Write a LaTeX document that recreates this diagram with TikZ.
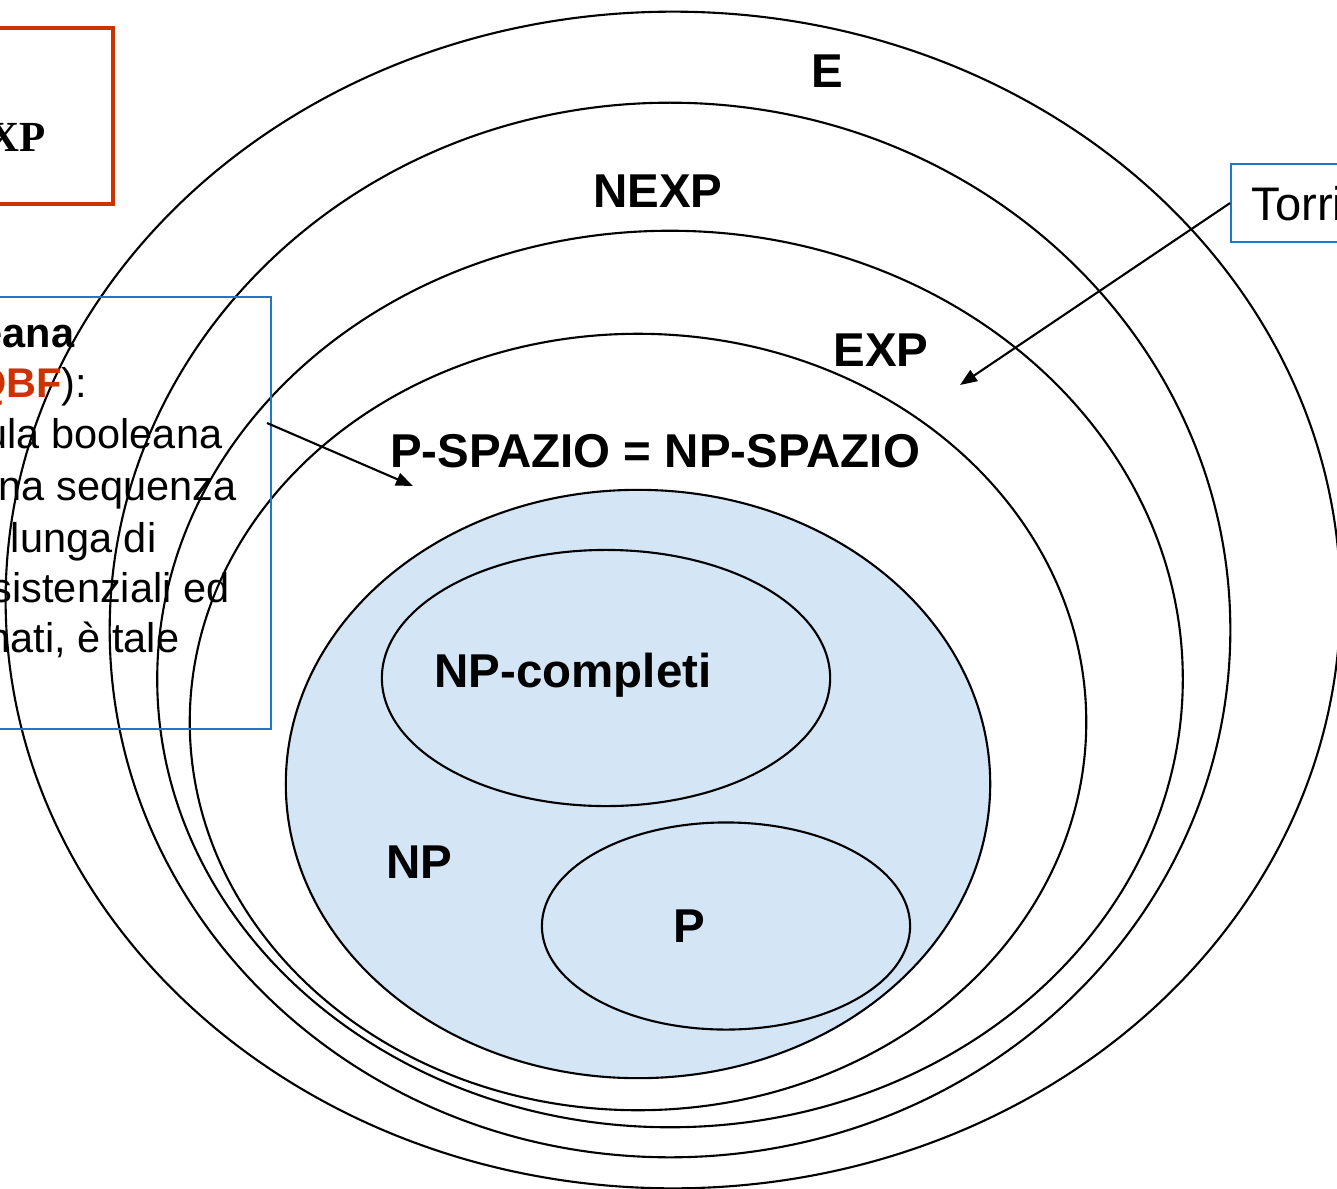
\documentclass[tikz,border=0pt]{standalone}
\usepackage{fontspec}
\setmainfont{Liberation Sans}
\newfontfamily\timesfont{Liberation Serif}
\usetikzlibrary{shapes.geometric,arrows.meta}
\definecolor{qbfred}{RGB}{204,51,0}
\definecolor{boxblue}{RGB}{30,120,200}
\definecolor{npblue}{RGB}{212,229,246}
\begin{document}
\begin{tikzpicture}[x=0.01cm, y=-0.01cm,
  cls/.style={draw, ellipse, line width=0.6pt, inner sep=0pt},
  lab/.style={font=\fontsize{13.5}{16}\selectfont\bfseries, inner sep=0pt, anchor=base},
  txt/.style={font=\fontsize{11.8}{14}\selectfont, inner sep=0pt, anchor=base east},
  arr/.style={-{Triangle[length=0.17cm,width=0.13cm]}, line width=0.6pt}]

  \useasboundingbox (0,0) rectangle (1337,1188);
  \clip (0,0) rectangle (1337,1188);

  % Classes
  \node[cls, minimum width=13.34cm, minimum height=11.76cm] (E) at (673,600) {};
  \node[cls, minimum width=11.20cm, minimum height=10.54cm] (NEXP) at (670,630) {};
  \node[cls, minimum width=10.25cm, minimum height=8.96cm] (EXP) at (670,679) {};
  \node[cls, minimum width=8.96cm, minimum height=7.76cm] (PSPACE) at (638,722) {};
  \node[cls, fill=npblue, minimum width=7.04cm, minimum height=5.88cm] (NP) at (638,784) {};
  \node[cls, minimum width=4.48cm, minimum height=2.56cm] (NPC) at (606,678) {};
  \node[cls, minimum width=3.68cm, minimum height=2.07cm] (P) at (726,926) {};

  % Labels
  \node[lab] (Elab) at (827,88) {E};
  \node[lab] (NEXPlab) at (658,207) {NEXP};
  \node[lab] (EXPlab) at (881,366) {EXP};
  \node[lab] (PSPACElab) at (655,467) {P-SPAZIO = NP-SPAZIO};
  \node[lab] (NPClab) at (573,687) {NP-completi};
  \node[lab] (NPlab) at (419,878) {NP};
  \node[lab] (Plab) at (689,942) {P};

  % Boxes
  \node[draw=qbfred, line width=1pt, anchor=north east, minimum width=2cm, minimum height=1.76cm] (expbox) at (115,26) {};
  \node[anchor=base east, inner sep=0pt, font=\timesfont\fontsize{12.2}{14}\selectfont\bfseries] (explab) at (46,152) {XP};

  \node[draw=boxblue, line width=0.6pt, anchor=north east, minimum width=4cm, minimum height=4.32cm, inner sep=0pt] (qbf) at (272,296) {};
  \node[txt, font=\fontsize{11.8}{14}\selectfont\bfseries] (q1) at (75,347) {eana};
  \node[txt] (q2) at (88,397) {\textbf{\color{qbfred}QBF}):};
  \node[txt] (q3) at (223,448) {ula booleana};
  \node[txt] (q4) at (237,500) {na sequenza};
  \node[txt] (q5) at (157,552) {lunga di};
  \node[txt] (q6) at (230,602) {sistenziali ed};
  \node[txt] (q7) at (180,652) {nati, è tale};

  \node[draw=boxblue, line width=0.6pt, anchor=north west, minimum width=2cm, minimum height=0.78cm, inner sep=0pt] (torri) at (1230,163) {};
  \node[anchor=base west, inner sep=0pt, font=\fontsize{13.4}{16}\selectfont] (torrilab) at (1251,220) {Torri};

  % Arrows
  \coordinate (qbfout) at (267,423);
  \coordinate (pspacetip) at (413,486);
  \coordinate (exptip) at (960,385);
  \draw[arr] (qbfout) -- (pspacetip);
  \draw[arr] (torri.west) -- (exptip);

\end{tikzpicture}
\end{document}
